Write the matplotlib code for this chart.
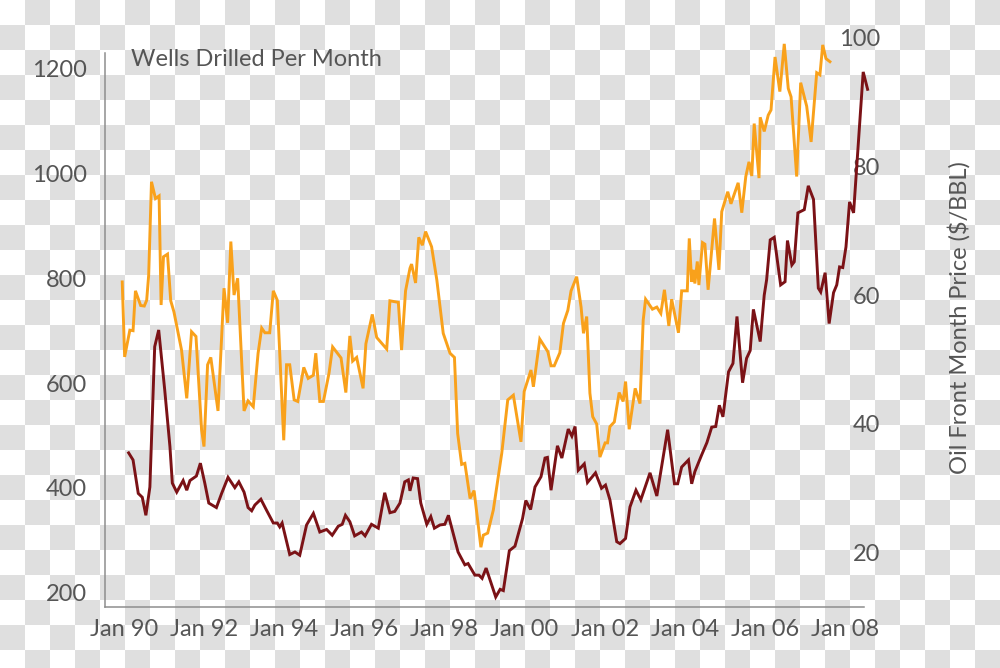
import numpy as np
import matplotlib
matplotlib.use("Agg")
import matplotlib.pyplot as plt

# wells drilled per month (left axis), time in decimal years
wells_t = [1989.96, 1990.02, 1990.15, 1990.23, 1990.29, 1990.42, 1990.51, 1990.57, 1990.62, 1990.69,
           1990.79, 1990.88, 1990.93, 1990.99, 1991.09, 1991.17, 1991.25, 1991.44, 1991.57, 1991.69,
           1991.80, 1991.94, 1992.00, 1992.09, 1992.17, 1992.35, 1992.50, 1992.59, 1992.67, 1992.75,
           1992.84, 1993.00, 1993.10, 1993.23, 1993.35, 1993.44, 1993.52, 1993.64, 1993.73, 1993.83,
           1993.99, 1994.06, 1994.14, 1994.25, 1994.34, 1994.49, 1994.60, 1994.73, 1994.79, 1994.89,
           1994.98, 1995.12, 1995.21, 1995.42, 1995.54, 1995.64, 1995.71, 1995.81, 1995.97, 1996.04,
           1996.20, 1996.31, 1996.56, 1996.64, 1996.85, 1996.93, 1997.03, 1997.14, 1997.18, 1997.28,
           1997.36, 1997.45, 1997.53, 1997.68, 1997.81, 1997.97, 1998.14, 1998.25, 1998.33, 1998.43,
           1998.51, 1998.64, 1998.74, 1998.91, 1998.97, 1999.08, 1999.22, 1999.43, 1999.58, 1999.72,
           1999.91, 1999.99, 2000.16, 2000.22, 2000.38, 2000.58, 2000.66, 2000.74, 2000.88, 2000.97,
           2001.08, 2001.16, 2001.30, 2001.41, 2001.47, 2001.55, 2001.63, 2001.70, 2001.80, 2001.88,
           2002.01, 2002.07, 2002.13, 2002.24, 2002.36, 2002.46, 2002.52, 2002.61, 2002.76, 2002.88,
           2002.96, 2003.02, 2003.19, 2003.30, 2003.40, 2003.49, 2003.60, 2003.67, 2003.84, 2003.92,
           2004.06, 2004.11, 2004.17, 2004.21, 2004.25, 2004.31, 2004.35, 2004.44, 2004.50, 2004.58,
           2004.74, 2004.85, 2004.92, 2005.07, 2005.15, 2005.33, 2005.42, 2005.52, 2005.60, 2005.67,
           2005.73, 2005.85, 2005.88, 2005.98, 2006.08, 2006.15, 2006.25, 2006.37, 2006.48, 2006.58,
           2006.65, 2006.79, 2006.89, 2007.04, 2007.15, 2007.29, 2007.37, 2007.44, 2007.52, 2007.62]
wells = [793, 650, 701, 700, 776, 748, 747, 758, 806, 984,
         952, 957, 749, 841, 846, 757, 736, 663, 571, 698,
         689, 511, 479, 635, 649, 547, 781, 715, 870, 768,
         800, 547, 566, 555, 657, 705, 696, 696, 776, 758,
         491, 635, 635, 568, 565, 630, 609, 615, 657, 565,
         565, 619, 669, 648, 582, 690, 642, 649, 590, 675,
         731, 687, 665, 757, 754, 663, 776, 819, 827, 791,
         878, 863, 889, 860, 797, 695, 657, 649, 504, 445,
         447, 380, 395, 287, 310, 314, 358, 466, 568, 577,
         488, 584, 625, 593, 684, 660, 633, 633, 658, 714,
         739, 776, 803, 745, 695, 727, 581, 536, 522, 459,
         486, 486, 517, 526, 582, 565, 603, 512, 590, 561,
         720, 760, 741, 745, 733, 778, 709, 760, 696, 776,
         776, 876, 793, 816, 790, 832, 787, 868, 865, 778,
         914, 816, 927, 965, 942, 982, 925, 994, 1022, 995,
         1095, 991, 1107, 1080, 1111, 1121, 1222, 1156, 1247, 1162,
         1146, 994, 1173, 1128, 1060, 1192, 1188, 1245, 1219, 1213]

# oil front month price (right axis)
oil_t = [1990.12, 1990.23, 1990.36, 1990.46, 1990.55, 1990.65, 1990.77, 1990.87, 1991.02, 1991.15,
         1991.21, 1991.32, 1991.48, 1991.57, 1991.65, 1991.81, 1991.91, 1992.02, 1992.12, 1992.31,
         1992.44, 1992.60, 1992.77, 1992.87, 1993.00, 1993.10, 1993.19, 1993.27, 1993.42, 1993.56,
         1993.73, 1993.83, 1993.89, 1993.95, 1994.14, 1994.27, 1994.39, 1994.56, 1994.73, 1994.89,
         1995.06, 1995.20, 1995.35, 1995.45, 1995.53, 1995.64, 1995.76, 1995.93, 1996.02, 1996.18,
         1996.35, 1996.51, 1996.64, 1996.76, 1996.89, 1997.01, 1997.10, 1997.14, 1997.22, 1997.33,
         1997.41, 1997.56, 1997.66, 1997.75, 1997.89, 1998.01, 1998.10, 1998.34, 1998.51, 1998.59,
         1998.76, 1998.86, 1998.94, 1999.04, 1999.28, 1999.39, 1999.47, 1999.62, 1999.76, 1999.95,
         2000.03, 2000.15, 2000.26, 2000.41, 2000.51, 2000.57, 2000.66, 2000.82, 2000.93, 2001.09,
         2001.18, 2001.26, 2001.34, 2001.49, 2001.57, 2001.77, 2001.92, 2002.02, 2002.13, 2002.21,
         2002.30, 2002.38, 2002.52, 2002.63, 2002.78, 2002.90, 2003.13, 2003.30, 2003.57, 2003.74,
         2003.82, 2003.92, 2004.09, 2004.17, 2004.25, 2004.42, 2004.55, 2004.67, 2004.77, 2004.86,
         2004.95, 2005.09, 2005.20, 2005.30, 2005.44, 2005.54, 2005.63, 2005.71, 2005.88, 2005.98,
         2006.04, 2006.13, 2006.23, 2006.39, 2006.50, 2006.56, 2006.67, 2006.73, 2006.82, 2006.98,
         2007.08, 2007.21, 2007.33, 2007.39, 2007.50, 2007.60, 2007.71, 2007.79, 2007.86, 2007.94,
         2008.02, 2008.11, 2008.21, 2008.45, 2008.56]
oil = [35.5, 34.4, 29.2, 28.6, 25.8, 30.2, 52.0, 54.6, 45.3, 36.5,
       30.8, 29.4, 31.2, 29.7, 31.2, 31.9, 33.9, 30.8, 27.7, 27.0,
       29.2, 31.7, 30.1, 31.0, 29.4, 27.0, 26.5, 27.4, 28.3, 26.6,
       24.6, 24.6, 24.0, 24.6, 19.7, 20.1, 19.6, 24.3, 26.1, 23.2,
       23.6, 22.7, 24.1, 24.4, 25.8, 24.8, 22.6, 23.2, 22.6, 24.4,
       23.8, 29.3, 26.2, 26.4, 27.7, 31.0, 31.3, 29.6, 31.6, 31.5,
       27.7, 24.4, 25.6, 23.8, 24.3, 24.4, 25.8, 20.1, 18.1, 18.3,
       16.5, 16.5, 16.0, 17.6, 13.1, 14.3, 14.1, 20.3, 21.0, 25.3,
       28.1, 26.7, 30.2, 31.8, 34.7, 34.8, 29.7, 36.6, 34.7, 39.2,
       38.1, 39.6, 32.8, 33.8, 30.9, 32.4, 30.0, 30.5, 28.2, 25.1,
       21.7, 21.4, 22.2, 27.1, 29.7, 28.2, 32.4, 28.8, 39.1, 30.7,
       30.7, 33.3, 34.4, 30.7, 32.6, 35.2, 37.1, 39.5, 39.6, 42.9,
       41.1, 48.1, 49.4, 56.7, 46.4, 50.2, 51.4, 57.8, 52.8, 60.0,
       62.4, 68.6, 69.0, 61.6, 62.1, 68.5, 64.7, 65.2, 72.8, 73.3,
       77.0, 74.9, 61.1, 60.5, 63.5, 55.6, 60.4, 61.6, 64.4, 64.3,
       67.5, 74.5, 72.8, 94.7, 92.0]

x_ticks = [1990, 1992, 1994, 1996, 1998, 2000, 2002, 2004, 2006, 2008]
x_labels = ["Jan 90", "Jan 92", "Jan 94", "Jan 96", "Jan 98",
            "Jan 00", "Jan 02", "Jan 04", "Jan 06", "Jan 08"]
wells_ticks = [200, 400, 600, 800, 1000, 1200]
oil_ticks = [20, 40, 60, 80, 100]

ORANGE = "#f9a11b"
DARKRED = "#7b1216"
GREY_TXT = "#555555"
GREY_AX = "#8e8e8e"
FS = 17

plt.rcParams["font.family"] = ["Lato", "DejaVu Sans"]

W, H = 1000, 668
fig = plt.figure(figsize=(W / 100, H / 100), dpi=100)
fig.patch.set_facecolor("white")

# checkerboard backdrop, as in the reference picture
rr, cc = np.mgrid[0:H, 0:W]
board = np.where(((rr // 25) + (cc // 25)) % 2 == 1, 0.878, 1.0)
board = np.dstack([board, board, board])
fig.figimage(board, xo=0, yo=0, origin="upper", zorder=-5)

left, right = 105 / W, 864 / W
bottom = (H - 607) / H
ax1 = fig.add_axes([left, bottom, right - left, (607 - 53) / H])
ax2 = fig.add_axes([left, bottom, right - left, (607 - 20) / H])
for a in (ax1, ax2):
    a.set_facecolor("none")
    a.set_xlim(1989.53, 2008.47)

ax1.set_ylim(173, 1229.6)
ax2.set_ylim(11.55, 102.77)

ax1.plot(wells_t, wells, color=ORANGE, lw=2.1, clip_on=False, solid_joinstyle="miter")
ax2.plot(oil_t, oil, color=DARKRED, lw=2.1, clip_on=False, solid_joinstyle="miter")

# left / bottom frame
for s in ("top", "right"):
    ax1.spines[s].set_visible(False)
for s in ("left", "bottom"):
    ax1.spines[s].set_color(GREY_AX)
    ax1.spines[s].set_linewidth(1.1)

ax1.set_xticks(x_ticks)
ax1.set_xticklabels(x_labels)
ax1.set_yticks(wells_ticks)
ax1.set_yticklabels([str(v) for v in wells_ticks])
ax1.tick_params(axis="both", length=0, labelsize=FS, labelcolor=GREY_TXT)
ax1.tick_params(axis="y", pad=13)
ax1.tick_params(axis="x", pad=8.5)

for s in ax2.spines.values():
    s.set_visible(False)
ax2.set_xticks([])
ax2.yaxis.tick_right()
ax2.set_yticks(oil_ticks)
ax2.set_yticklabels([str(v) for v in oil_ticks], ha="right")
ax2.tick_params(axis="y", length=0, pad=11.5, labelsize=FS, labelcolor=GREY_TXT)
ax2.set_ylabel("Oil Front Month Price ($/BBL)", fontsize=FS, color=GREY_TXT, rotation=90)
ax2.yaxis.set_label_position("right")
ax2.yaxis.set_label_coords((948 - 105) / (864 - 105), (607 - 318) / (607 - 20))

fig.text(131 / W, 1 - 60 / H, "Wells Drilled Per Month", fontsize=FS,
         color=GREY_TXT, ha="left", va="center")

fig.savefig("out.png", dpi=100)
